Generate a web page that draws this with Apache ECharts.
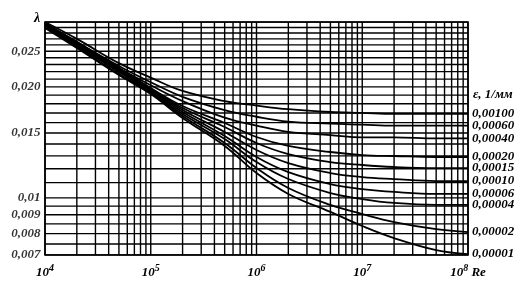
<!DOCTYPE html>
<html><head><meta charset="utf-8">
<script src="https://cdn.jsdelivr.net/npm/echarts@6/dist/echarts.min.js"></script>
<style>html,body{margin:0;padding:0;background:#fff}#c{width:526px;height:301px}</style>
</head><body><div id="c"></div>
<script>
const reValues = [1e4, 2e4, 5e4, 1e5, 2e5, 5e5, 1e6, 2e6, 5e6, 1e7, 2e7, 5e7, 1e8];
const eps00100 = [0.0300, 0.0270, 0.0232, 0.0212, 0.0195, 0.0183, 0.0178, 0.0174, 0.0171, 0.0170, 0.0169, 0.0169, 0.0169];
const eps00060 = [0.0298, 0.0265, 0.0228, 0.0206, 0.0188, 0.0173, 0.0166, 0.0161, 0.0159, 0.0158, 0.0157, 0.0157, 0.0157];
const eps00040 = [0.0297, 0.0262, 0.0225, 0.0202, 0.0183, 0.0165, 0.0157, 0.0151, 0.0148, 0.0146, 0.0146, 0.0145, 0.0145];
const eps00020 = [0.02962, 0.02648, 0.02251, 0.01986, 0.01775, 0.01596, 0.01463, 0.01383, 0.01332, 0.01307, 0.01299, 0.01291, 0.01291];
const eps00015 = [0.02944, 0.02631, 0.02237, 0.01974, 0.01753, 0.01557, 0.01409, 0.01315, 0.01251, 0.01228, 0.01213, 0.01205, 0.01205];
const eps00010 = [0.02926, 0.02615, 0.02223, 0.01962, 0.01731, 0.01509, 0.01349, 0.01243, 0.01168, 0.01139, 0.01125, 0.01111, 0.01111];
const eps00006 = [0.02926, 0.02598, 0.02209, 0.01949, 0.01710, 0.01472, 0.01291, 0.01175, 0.01090, 0.01057, 0.01038, 0.01025, 0.01025];
const eps00004 = [0.02907, 0.02582, 0.02195, 0.01937, 0.01689, 0.01444, 0.01251, 0.01125, 0.01031, 0.00993, 0.00969, 0.00957, 0.00957];
const eps00002 = [0.02907, 0.02566, 0.02168, 0.01925, 0.01668, 0.01409, 0.01205, 0.01064, 0.00957, 0.00904, 0.00860, 0.00823, 0.00808];
const eps00001 = [0.02890, 0.02550, 0.02154, 0.01913, 0.01647, 0.01383, 0.01168, 0.01025, 0.00916, 0.00839, 0.00778, 0.00722, 0.00704];

const curveNames = ['0,00100','0,00060','0,00040','0,00020','0,00015','0,00010','0,00006','0,00004','0,00002','0,00001'];
const curveData = [eps00100, eps00060, eps00040, eps00020, eps00015, eps00010, eps00006, eps00004, eps00002, eps00001];

const yTickValues = [0.007, 0.008, 0.009, 0.01, 0.015, 0.02, 0.025];
const yTickTexts = ['0,007', '0,008', '0,009', '0,01', '0,015', '0,020', '0,025'];

const RE_MIN = 1e4, RE_MAX = 1e8, L_MIN = 0.007, L_MAX = 0.03;
const FONT = 'Liberation Sans Narrow';
const chart = echarts.init(document.getElementById('c'), null, {renderer:'canvas'});

const hLines = [];
for (let v = 70; v <= 100; v += 5) hLines.push(v/10000);
for (let v = 11; v <= 30; v++) hLines.push(v/1000);
const vLines = [];
for (let e = 4; e < 8; e++) for (let k = 1; k <= 9; k++) vLines.push(k*Math.pow(10,e));
vLines.push(1e8);

const gridStyle = {color:'#000', width:1.4};
const series = [];
hLines.forEach(v => {
  series.push({type:'line', silent:true, symbol:'none', animation:false, lineStyle:gridStyle, z:1,
    data:[[RE_MIN, v], [RE_MAX, v]]});
});
vLines.forEach(v => {
  series.push({type:'line', silent:true, symbol:'none', animation:false, lineStyle:gridStyle, z:1,
    data:[[v, L_MIN],[v, L_MAX]]});
});
series.push({type:'scatter', silent:true, animation:false, symbolSize:1, itemStyle:{color:'rgba(0,0,0,0)'},
  data: yTickValues.map((v, i) => ({value:[RE_MIN, v], label:{formatter: yTickTexts[i]}})),
  label:{show:true, position:'left', distance:4, color:'#000', fontFamily:FONT, fontStyle:'italic', fontWeight:'bold', fontSize:13}
});
curveData.forEach((arr, i) => {
  series.push({
    type:'line', name: curveNames[i], smooth:0.4, symbol:'none', animation:false, z:3,
    lineStyle:{color:'#000', width:1.8},
    data: reValues.map((r, j) => [r, arr[j]]),
    endLabel:{show:true, formatter: curveNames[i], color:'#000', fontFamily:FONT, fontStyle:'italic',
      fontWeight:'bold', fontSize:13, distance:4}
  });
});

chart.setOption({
  backgroundColor:'#fff',
  animation:false,
  grid:{left:45, right:58, top:22, bottom:46, show:true, borderColor:'#000', borderWidth:1.6, backgroundColor:'transparent'},
  xAxis:{type:'log', logBase:10, min:RE_MIN, max:RE_MAX,
    axisLine:{show:false}, axisTick:{show:false}, splitLine:{show:false},
    axisLabel:{margin:8, color:'#000', fontFamily:FONT, fontStyle:'italic', fontWeight:'bold', fontSize:13,
      formatter: v => { const e = Math.round(Math.log10(v)); return '10{s|' + e + '}' + (e === 8 ? ' Re' : ''); },
      rich:{s:{fontSize:10, fontFamily:FONT, fontStyle:'italic', fontWeight:'bold', color:'#000', padding:[0,0,10,0]}}}},
  yAxis:{type:'log', logBase:10, min:L_MIN, max:L_MAX,
    axisLine:{show:false}, axisTick:{show:false}, splitLine:{show:false}, axisLabel:{show:false}},
  graphic:[
    {type:'text', left:34, top:11, style:{text:'λ', font:'italic bold 14px "'+FONT+'"', fill:'#000'}},
    {type:'text', left:473, top:88, style:{text:'ε, 1/мм', font:'italic bold 13px "'+FONT+'"', fill:'#000'}}
  ],
  series: series
});
</script></body></html>
